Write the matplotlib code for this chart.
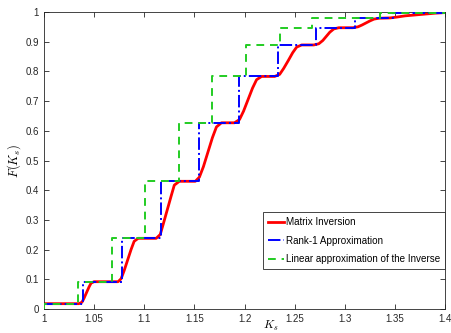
import matplotlib
matplotlib.use("Agg")
import matplotlib.pyplot as plt

# step curves: jump positions and levels (steps-post)
rank1_x = [1.0, 1.039, 1.078, 1.1167, 1.155, 1.194, 1.233, 1.271, 1.31, 1.348, 1.4]
rank1_y = [0.018, 0.092, 0.238, 0.43, 0.627, 0.783, 0.889, 0.947, 0.98, 0.995, 0.995]

linear_x = [1.0, 1.0, 1.034, 1.0675, 1.1007, 1.1347, 1.168, 1.2015, 1.235, 1.267, 1.335, 1.4]
linear_y = [0.0, 0.018, 0.092, 0.238, 0.43, 0.627, 0.783, 0.889, 0.947, 0.979, 0.997, 0.997]

# exact matrix inversion, read point by point
inv_x = [1.0, 1.035, 1.038, 1.040, 1.0425, 1.045, 1.047, 1.050,
         1.074, 1.077, 1.080, 1.0835, 1.087, 1.090, 1.094,
         1.112, 1.116, 1.119, 1.123, 1.127, 1.130, 1.135,
         1.151, 1.155, 1.159, 1.1635, 1.168, 1.172, 1.177,
         1.190, 1.195, 1.199, 1.2035, 1.208, 1.212, 1.217,
         1.230, 1.235, 1.239, 1.2435, 1.248, 1.252, 1.257,
         1.269, 1.274, 1.278, 1.2815, 1.285, 1.289, 1.294,
         1.308, 1.313, 1.317, 1.321, 1.325, 1.329, 1.334,
         1.345, 1.352, 1.36, 1.37, 1.38, 1.39, 1.4]
inv_y = [0.018, 0.018, 0.023, 0.036, 0.055, 0.074, 0.087, 0.092,
         0.092, 0.102, 0.129, 0.165, 0.201, 0.228, 0.238,
         0.238, 0.251, 0.286, 0.334, 0.382, 0.417, 0.430,
         0.430, 0.444, 0.479, 0.528, 0.577, 0.613, 0.627,
         0.627, 0.638, 0.666, 0.705, 0.744, 0.772, 0.783,
         0.783, 0.790, 0.810, 0.836, 0.863, 0.882, 0.889,
         0.889, 0.893, 0.904, 0.918, 0.932, 0.943, 0.947,
         0.947, 0.950, 0.956, 0.963, 0.970, 0.976, 0.979,
         0.980, 0.983, 0.987, 0.990, 0.993, 0.996, 0.998]

x_ticks = [1, 1.05, 1.1, 1.15, 1.2, 1.25, 1.3, 1.35, 1.4]
x_labels = ["1", "1.05", "1.1", "1.15", "1.2", "1.25", "1.3", "1.35", "1.4"]
y_ticks = [0, 0.1, 0.2, 0.3, 0.4, 0.5, 0.6, 0.7, 0.8, 0.9, 1]
y_labels = ["0", "0.1", "0.2", "0.3", "0.4", "0.5", "0.6", "0.7", "0.8", "0.9", "1"]

plt.rcParams["font.family"] = ["Liberation Sans", "DejaVu Sans"]
plt.rcParams["mathtext.fontset"] = "cm"

fig = plt.figure(figsize=(4.52, 3.33), dpi=100)
ax = fig.add_axes([0.097, 0.072, 0.888, 0.892])

ax.plot(inv_x, inv_y, color="red", lw=2.0, label="Matrix Inversion", zorder=2)
ax.plot(rank1_x, rank1_y, color="blue", lw=1.4, ls="-.", drawstyle="steps-post",
        label="Rank-1 Approximation", zorder=3)
ax.plot(linear_x, linear_y, color="#22cc22", lw=1.4, ls=(0, (4, 3)), drawstyle="steps-post",
        label="Linear approximation of the Inverse", zorder=4)

ax.set_xlim(1, 1.4)
ax.set_ylim(0, 1)
ax.set_xticks(x_ticks)
ax.set_xticklabels(x_labels)
ax.set_yticks(y_ticks)
ax.set_yticklabels(y_labels)
ax.tick_params(direction="in", top=True, right=True, labelsize=7, colors="#262626",
               length=3.5, width=0.6)
for s in ax.spines.values():
    s.set_color("#262626")
    s.set_linewidth(0.6)

ax.set_xlabel("$K_s$", fontsize=8.5)
ax.xaxis.set_label_coords(0.564, -0.033)
ax.set_ylabel("$F(K_s)$", fontsize=9, labelpad=2)

leg = ax.legend(loc="lower left", bbox_to_anchor=(0.546, 0.135), borderaxespad=0,
                fontsize=7.1, fancybox=False, edgecolor="#262626", framealpha=1,
                handlelength=1.6, handletextpad=0.2, borderpad=0.5, labelspacing=0.85)
leg.get_frame().set_linewidth(0.6)

fig.savefig("out.png", dpi=100)
